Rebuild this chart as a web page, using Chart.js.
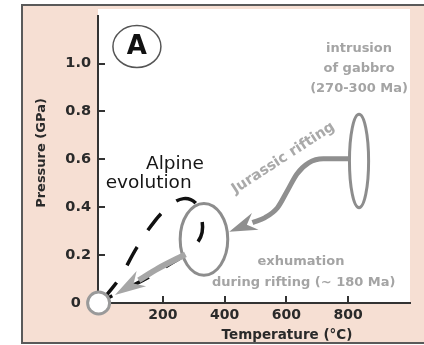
<!DOCTYPE html>
<html>
<head>
<meta charset="utf-8">
<script src="https://cdn.jsdelivr.net/npm/chart.js@4"></script>
<style>
  html, body { margin: 0; padding: 0; background: #fff; }
</style>
</head>
<body>
<canvas id="chart" width="424" height="345"></canvas>
<script>
// axis ticks
const xTicks = [200, 400, 600, 800];
const yTicks = [0, 0.2, 0.4, 0.6, 0.8, 1.0];
const yTickLabels = ['0  ', '0.2', '0.4', '0.6', '0.8', '1.0'];

// P-T paths (temperature in °C, pressure in GPa)
const alpineT = [16, 60, 116, 170, 223, 267, 305, 323, 327, 305, 273, 217, 154, 85, 22];
const alpineP = [0.03, 0.104, 0.232, 0.336, 0.407, 0.436, 0.419, 0.365, 0.295, 0.241, 0.203, 0.158, 0.108, 0.062, 0.021];
const jurassicT = [804, 719, 672, 634, 603, 571, 531, 490];
const jurassicP = [0.602, 0.602, 0.585, 0.539, 0.469, 0.398, 0.357, 0.336];
const exhumT = [273, 185, 122];
const exhumP = [0.203, 0.145, 0.095];
const originT = [-8];
const originP = [0];

// P-T fields: gabbro intrusion, exhumation during rifting
const fieldT = [835, 333];
const fieldP = [0.593, 0.266];
const fieldHalfT = [31, 77];
const fieldHalfP = [0.195, 0.15];

const toPts = (xs, ys) => xs.map((x, i) => ({ x: x, y: ys[i] }));

const FONT = '"DejaVu Sans", "Liberation Sans", sans-serif';
const GREY_TEXT = '#a4a4a4';

const decor = {
  id: 'decor',
  beforeDraw(chart) {
    const ctx = chart.ctx;
    const ca = chart.chartArea;
    ctx.save();
    ctx.fillStyle = '#fff';
    ctx.fillRect(0, 0, chart.width, chart.height);
    ctx.fillStyle = '#f6dfd3';
    ctx.fillRect(22, 5, chart.width - 22, 338);
    ctx.fillStyle = '#fff';
    ctx.fillRect(ca.left, 9, ca.right - ca.left, ca.bottom - 9);
    ctx.strokeStyle = '#5a5a5a';
    ctx.lineWidth = 2;
    ctx.beginPath();
    ctx.moveTo(chart.width, 5);
    ctx.lineTo(22, 5);
    ctx.lineTo(22, 343);
    ctx.lineTo(chart.width, 343);
    ctx.stroke();
    ctx.restore();
  },
  beforeDatasetsDraw(chart) {
    const ctx = chart.ctx;
    const xs = chart.scales.x, ys = chart.scales.y;
    ctx.save();
    ctx.strokeStyle = '#8d8d8d';
    ctx.lineWidth = 3;
    fieldT.forEach((t, i) => {
      const cx = xs.getPixelForValue(t);
      const cy = ys.getPixelForValue(fieldP[i]);
      const rx = xs.getPixelForValue(t + fieldHalfT[i]) - cx;
      const ry = cy - ys.getPixelForValue(fieldP[i] + fieldHalfP[i]);
      ctx.beginPath();
      ctx.ellipse(cx, cy, rx, ry, 0, 0, Math.PI * 2);
      ctx.stroke();
    });
    ctx.restore();
  },
  afterDatasetDraw(chart, args) {
    if (args.index !== 1 && args.index !== 2) return;
    const ds = chart.data.datasets[args.index];
    const pts = args.meta.data;
    const a = pts[pts.length - 2], b = pts[pts.length - 1];
    const dx = b.x - a.x, dy = b.y - a.y;
    const len = Math.hypot(dx, dy);
    const ux = dx / len, uy = dy / len;
    const L = args.index === 1 ? 28 : 25, W = 9;
    const ctx = chart.ctx;
    ctx.save();
    ctx.fillStyle = ds.borderColor;
    ctx.beginPath();
    ctx.moveTo(b.x + ux * L, b.y + uy * L);
    ctx.lineTo(b.x - uy * W - ux * 3, b.y + ux * W - uy * 3);
    ctx.lineTo(b.x + ux * 6, b.y + uy * 6);
    ctx.lineTo(b.x + uy * W - ux * 3, b.y - ux * W - uy * 3);
    ctx.closePath();
    ctx.fill();
    ctx.restore();
  },
  afterDraw(chart) {
    const ctx = chart.ctx;
    const xs = chart.scales.x, ys = chart.scales.y;
    const ca = chart.chartArea;
    ctx.save();
    // inward tick marks
    ctx.strokeStyle = '#333';
    ctx.lineWidth = 2;
    ctx.beginPath();
    xTicks.forEach(v => {
      const px = Math.round(xs.getPixelForValue(v));
      ctx.moveTo(px, ca.bottom);
      ctx.lineTo(px, ca.bottom - 7);
    });
    yTicks.slice(1).forEach(v => {
      const py = Math.round(ys.getPixelForValue(v));
      ctx.moveTo(ca.left, py);
      ctx.lineTo(ca.left + 7, py);
    });
    ctx.stroke();

    const put = (text, t, p, font, color, rot) => {
      ctx.save();
      ctx.translate(xs.getPixelForValue(t), ys.getPixelForValue(p));
      if (rot) ctx.rotate(rot);
      ctx.font = font;
      ctx.fillStyle = color;
      ctx.textAlign = 'center';
      ctx.textBaseline = 'middle';
      ctx.fillText(text, 0, 0);
      ctx.restore();
    };

    // panel letter
    ctx.strokeStyle = '#555';
    ctx.lineWidth = 1.5;
    ctx.beginPath();
    ctx.ellipse(xs.getPixelForValue(116), ys.getPixelForValue(1.071), 24, 21, 0, 0, Math.PI * 2);
    ctx.stroke();
    put('A', 116, 1.068, 'bold 26px ' + FONT, '#111');

    const grey = 'bold 13px ' + FONT;
    put('intrusion', 835, 1.062, grey, GREY_TEXT);
    put('of gabbro', 835, 0.979, grey, GREY_TEXT);
    put('(270-300 Ma)', 835, 0.896, grey, GREY_TEXT);
    put('exhumation', 647, 0.174, grey, GREY_TEXT);
    put('during rifting (~ 180 Ma)', 656, 0.087, grey, GREY_TEXT);
    put('Jurassic rifting', 590, 0.605, 'bold 14.5px ' + FONT, '#a9a9a9', -33 * Math.PI / 180);
    put('Alpine', 239, 0.581, '18.5px ' + FONT, '#151515');
    put('evolution', 154, 0.502, '18.5px ' + FONT, '#151515');

    // axis titles
    ctx.font = 'bold 13.5px ' + FONT;
    ctx.fillStyle = '#2a2a2a';
    ctx.textAlign = 'center';
    ctx.textBaseline = 'middle';
    ctx.fillText('Temperature (°C)', 287, 335);
    ctx.translate(42, 153);
    ctx.rotate(-Math.PI / 2);
    ctx.font = 'bold 13px ' + FONT;
    ctx.fillText('Pressure (GPa)', 0, 0);
    ctx.restore();
  }
};

new Chart(document.getElementById('chart'), {
  type: 'scatter',
  data: {
    datasets: [
      {
        label: 'origin',
        data: toPts(originT, originP),
        pointRadius: 11,
        pointBackgroundColor: '#fff',
        pointBorderColor: '#9a9a9a',
        pointBorderWidth: 3,
        clip: false
      },
      {
        label: 'exhumation',
        data: toPts(exhumT, exhumP),
        showLine: true,
        borderColor: '#a6a6a6',
        borderWidth: 6,
        tension: 0.3,
        pointRadius: 0
      },
      {
        label: 'Jurassic rifting',
        data: toPts(jurassicT, jurassicP),
        showLine: true,
        borderColor: '#8f8f8f',
        borderWidth: 5,
        cubicInterpolationMode: 'monotone',
        pointRadius: 0
      },
      {
        label: 'Alpine evolution',
        data: toPts(alpineT, alpineP),
        showLine: true,
        borderColor: '#111',
        borderWidth: 3.5,
        borderDash: [21, 20],
        borderDashOffset: 4,
        tension: 0.4,
        pointRadius: 0
      }
    ]
  },
  options: {
    responsive: false,
    animation: false,
    layout: { padding: { top: 15, right: 4, left: 0, bottom: 0 } },
    plugins: { legend: { display: false }, tooltip: { enabled: false } },
    scales: {
      x: {
        type: 'linear',
        min: -10,
        max: 1000,
        afterFit: s => { s.height = 42; },
        afterBuildTicks: s => { s.ticks = xTicks.map(v => ({ value: v })); },
        grid: { display: false, drawTicks: false },
        border: { display: true, color: '#333', width: 2 },
        ticks: { color: '#2a2a2a', padding: 4, font: { family: FONT, size: 14, weight: 'bold' } }
      },
      y: {
        type: 'linear',
        min: 0,
        max: 1.2,
        afterFit: s => { s.width = 98; },
        afterBuildTicks: s => { s.ticks = yTicks.map(v => ({ value: v })); },
        grid: { display: false, drawTicks: false },
        border: { display: true, color: '#333', width: 2 },
        ticks: {
          color: '#2a2a2a',
          padding: 7,
          font: { family: FONT, size: 14.5, weight: 'bold' },
          callback: (v, i) => yTickLabels[i]
        }
      }
    }
  },
  plugins: [decor]
});
</script>
</body>
</html>
